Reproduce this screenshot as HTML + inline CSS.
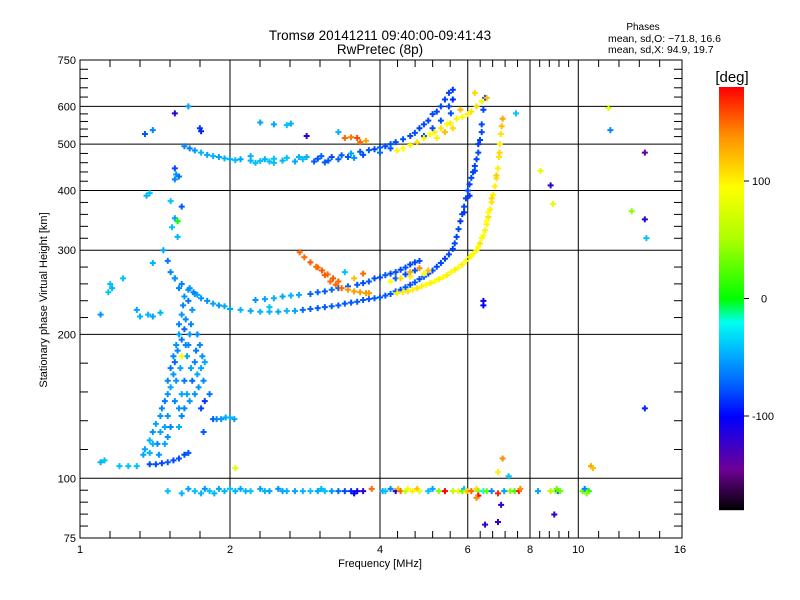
<!DOCTYPE html>
<html><head><meta charset="utf-8"><style>
body{margin:0;background:#fff;width:800px;height:600px;overflow:hidden}
svg{display:block;font-family:"Liberation Sans",sans-serif}
</style></head><body>
<svg id="chart" width="800" height="600" viewBox="0 0 800 600">
<rect width="800" height="600" fill="#fff"/>
<g id="grid"></g><g id="pts"></g><g id="axes"></g>
<text x="380" y="40" font-size="13.5" text-anchor="middle">Tromsø 20141211 09:40:00-09:41:43</text>
<text x="380" y="54" font-size="13.5" text-anchor="middle">RwPretec (8p)</text>
<text x="643" y="30" font-size="10" text-anchor="middle">Phases</text>
<text x="608" y="42" font-size="10.5">mean, sd,O: −71.8, 16.6</text>
<text x="608" y="53" font-size="10.5">mean, sd,X:  94.9, 19.7</text>
<text x="380" y="567" font-size="11" text-anchor="middle">Frequency [MHz]</text>
<text transform="translate(47,300) rotate(-90)" font-size="11" text-anchor="middle">Stationary phase Virtual Height [km]</text>
<text x="732" y="82" font-size="15" text-anchor="middle">[deg]</text>
<g id="cbar"></g>
</svg>
<script>
const xTicks=[1,2,4,6,8,10,16];
const yTicks=[75,100,200,300,400,500,600,750];
const xGrid=[2,4,6,8,10];
const yGrid=[100,200,300,400,500,600];
const cbTicks=[100,0,-100];
// traces: [freq MHz, height km, phase deg]
const oLowTrace=[[1.55,262,-60],[1.6,255,-62],[1.65,248,-58],[1.7,243,-60],[1.75,238,-55],[1.8,235,-58],[1.85,232,-50],[1.9,230,-55],[1.95,229,-48],[2.0,226,-50],[2.1,225,-45],[2.2,224,-48],[2.3,223,-45],[2.4,223,-45],[2.5,223,-48],[2.6,224,-45],[2.7,224,-50],[2.8,225,-70],[2.9,226,-72],[3.0,227,-75],[3.1,228,-75],[3.2,229,-75],[3.3,230,-75],[3.4,232,-75],[3.5,233,-75],[3.6,234,-75],[3.7,236,-75],[3.8,237,-75],[3.9,238,-75],[4.0,239,-75],[4.1,241,-75],[4.2,243,-75],[4.3,246,-75],[4.4,248,-78],[4.5,251,-75],[4.6,254,-78],[4.7,257,-75],[4.8,261,-78],[4.9,264,-75],[5.0,268,-80],[5.1,272,-78],[5.2,277,-80],[5.3,282,-80],[5.4,288,-82],[5.5,294,-80],[5.6,302,-82],[5.65,310,-80],[5.7,320,-82],[5.75,332,-80],[5.8,345,-85],[5.85,357,-82],[5.9,370,-80],[5.95,385,-82],[6.0,400,-80],[6.05,412,-82],[6.1,425,-80],[6.15,437,-82],[6.2,450,-80],[6.25,465,-82],[6.3,480,-80],[6.35,510,-82],[6.4,550,-80],[6.45,590,-82],[6.5,625,-85],[6.05,390,-85],[5.9,360,-85],[6.2,440,-80],[6.3,500,-85],[6.4,530,-80]];
const oMidTrace=[[2.25,236,-55],[2.35,237,-50],[2.45,238,-45],[2.55,240,-50],[2.65,241,-45],[2.75,242,-48],[2.9,243,-70],[3.0,245,-72],[3.1,246,-75],[3.2,248,-70],[3.3,250,-72],[3.45,252,-75],[3.6,254,-75],[3.7,256,-78],[3.8,258,-75],[3.9,262,-78],[4.0,263,-80],[4.1,266,-75],[4.2,268,-80],[4.3,270,-78],[4.4,273,-80],[4.5,276,-78],[4.6,280,-82],[4.7,283,-80],[4.8,285,-78],[4.3,262,-75],[4.5,267,-80],[4.7,272,-78],[4.2,258,90],[4.4,262,110],[4.6,264,100],[4.9,268,95],[5.0,272,120],[4.8,275,140],[4.6,270,130],[3.55,262,120],[3.7,268,150]];
const orangeTrace=[[2.76,297,150],[2.82,290,150],[2.9,283,155],[2.98,277,150],[3.06,272,155],[3.14,267,150],[3.22,262,155],[3.3,258,150],[3.0,276,150],[3.1,266,155],[3.18,258,150],[3.26,254,150],[3.35,250,150],[3.45,248,135],[3.55,246,135],[3.65,245,135],[3.75,244,135],[3.8,244,135]];
const xLowTrace=[[4.33,244,100],[4.45,245,100],[4.55,246,105],[4.65,248,100],[4.75,250,105],[4.85,252,100],[4.95,254,95],[5.05,256,100],[5.15,258,95],[5.25,261,100],[5.35,263,95],[5.45,266,100],[5.55,270,95],[5.65,273,100],[5.75,276,95],[5.85,280,100],[5.95,285,95],[6.05,290,100],[6.15,295,95],[6.25,300,100],[6.35,310,105],[6.45,322,95],[6.5,330,100],[6.55,340,100],[6.6,352,105],[6.65,365,100],[6.7,378,105],[6.75,392,100],[6.8,408,100],[6.85,424,105],[6.9,445,100],[6.93,470,105],[6.96,500,100],[6.99,525,105],[7.02,545,120],[7.05,565,130],[6.4,318,90],[6.55,345,95],[6.7,385,110],[6.85,430,115],[6.95,480,110],[6.6,360,95],[6.3,305,95],[6.1,292,90]];
const oUpperTrace=[[1.62,495,-60],[1.66,490,-62],[1.7,485,-55],[1.75,480,-45],[1.8,475,-50],[1.85,472,-45],[1.9,470,-50],[1.95,467,-45],[2.0,465,-48],[2.05,463,-42],[2.1,465,-50],[2.2,462,-45],[2.3,461,-40],[2.35,465,-45],[2.4,460,-42],[2.45,466,-40],[2.55,462,-45],[2.6,468,-40],[2.7,460,-50],[2.8,465,-40],[2.85,470,-45],[2.95,460,-75],[3.0,466,-78],[3.05,472,-72],[3.15,462,-75],[3.2,470,-78],[3.3,465,-72],[3.35,474,-75],[3.45,470,-75],[3.5,478,-50],[3.55,468,-55],[3.65,482,-75],[3.7,475,-78],[3.8,486,-75],[3.9,488,-80],[4.0,492,-75],[4.1,495,-80],[4.2,500,-78],[4.3,505,-80],[4.45,512,-78],[4.6,520,-80],[4.7,528,-78],[4.8,540,-82],[4.9,550,-80],[5.0,560,-82],[5.1,578,-80],[5.2,585,-82],[5.3,600,-80],[5.4,620,-82],[5.5,640,-80],[5.6,650,-85],[5.3,560,-78],[5.1,540,-80],[4.9,520,-78],[5.5,600,-80],[5.55,580,-78],[5.6,620,-90],[4.0,480,-70],[4.2,490,-75],[2.2,472,-45],[2.25,457,-42],[2.45,457,-40],[2.75,470,-45],[3.1,458,-75]];
const xUpperTrace=[[4.33,485,100],[4.45,490,95],[4.6,498,100],[4.75,505,105],[4.9,515,100],[5.04,524,95],[5.15,530,100],[5.3,540,105],[5.45,550,95],[5.54,553,100],[5.7,565,100],[5.85,570,95],[6.0,578,100],[6.1,585,105],[6.25,600,110],[6.4,615,100],[6.55,625,120],[5.2,515,100],[5.4,530,120],[5.6,540,110],[3.4,515,150],[3.5,517,145],[3.6,515,160],[3.65,505,150],[3.75,508,130],[5.8,590,120],[6.2,640,110]];
const spreadPts=[[1.35,115,-50],[1.38,120,-45],[1.40,125,-55],[1.42,130,-50],[1.43,118,-60],[1.45,135,-55],[1.46,140,-60],[1.48,128,-50],[1.48,145,-65],[1.50,150,-55],[1.50,160,-60],[1.52,155,-50],[1.52,170,-65],[1.54,165,-55],[1.54,180,-60],[1.55,175,-70],[1.56,190,-55],[1.57,185,-60],[1.58,200,-50],[1.58,210,-60],[1.60,195,-65],[1.60,220,-55],[1.61,230,-60],[1.62,205,-70],[1.62,240,-55],[1.63,215,-60],[1.64,180,-50],[1.65,190,-60],[1.65,235,-65],[1.66,200,-55],[1.67,170,-50],[1.67,210,-60],[1.68,160,-70],[1.68,225,-55],[1.70,175,-60],[1.70,150,-55],[1.71,185,-65],[1.72,165,-50],[1.72,200,-60],[1.73,155,-55],[1.74,190,-60],[1.75,170,-50],[1.76,180,-55],[1.77,160,-60],[1.78,175,-50],[1.55,145,-60],[1.58,140,-55],[1.60,150,-50],[1.62,160,-65],[1.50,135,-55],[1.45,125,-50],[1.40,118,-45],[1.44,112,-55],[1.52,128,-60],[1.56,160,-55],[1.59,170,-50],[1.63,190,-60],[1.66,250,-55],[1.69,245,-60],[1.72,242,-50],[1.58,250,-60],[1.55,262,-55],[1.52,270,-60],[1.5,285,-65],[1.47,300,-50],[1.45,222,-45],[1.40,218,-50],[1.37,220,-45],[1.32,218,-45],[1.30,225,-50],[1.10,220,-55],[1.22,262,-40],[1.16,250,-45],[1.14,245,-40],[1.4,282,-45],[1.53,335,-40],[1.55,350,-50],[1.57,320,-45],[1.52,380,-40],[1.36,390,-45],[1.38,395,-40],[1.6,370,-75],[1.56,432,-55],[1.55,445,-80],[1.58,428,-65],[1.55,422,-60],[1.65,600,-50],[1.4,535,-60],[1.74,540,-85],[1.57,345,0],[1.6,180,90],[1.62,140,-60],[1.64,150,-50],[1.66,145,-55],[1.6,135,-60],[1.58,128,-45],[1.48,118,-50],[1.5,122,-55],[1.38,113,-45],[1.34,112,-50],[1.2,106,-40],[1.25,106,-40],[1.1,108,-45],[1.12,109,-40],[1.3,106,-40],[1.75,140,-80],[1.78,145,-85],[1.82,150,-65],[1.77,125,-75],[2.05,105,80]];
const lowCurve=[[1.38,107,-80],[1.42,107,-78],[1.46,107.5,-80],[1.50,108,-75],[1.54,109,-80],[1.58,110,-78],[1.62,112,-80],[1.65,113,-75],[1.85,133,-75],[1.88,133,-60],[1.92,133,-55],[1.96,134,-50],[2.0,134,-45],[2.04,133,-50]];
const eLayer=[[1.5,94,-40],[1.6,93,-45],[1.65,95,-50],[1.7,94,-40],[1.75,93,-45],[1.78,95,-55],[1.82,94,-40],[1.86,93,-45],[1.9,95,-50],[1.95,94,-45],[2.0,95,-40],[2.05,94,-45],[2.1,95,-50],[2.15,94,-45],[2.2,94,-40],[2.3,95,-50],[2.35,94,-45],[2.4,94,-50],[2.5,95,-55],[2.55,94,-50],[2.6,94,-45],[2.7,94,-50],[2.8,94,-45],[2.9,94,-40],[3.0,94,-50],[3.05,95,-45],[3.1,94,-40],[3.2,94,-55],[3.3,94,-70],[3.4,94,-80],[3.5,94,-90],[3.6,94,-110],[3.7,94,-120],[3.55,93,-100],[3.85,95,150],[4.05,94,-50],[4.1,94,-40],[4.2,95,-60],[4.3,94,-120],[4.35,95,120],[4.4,94,150],[4.5,94,60],[4.55,95,90],[4.65,94,100],[4.75,95,120],[4.8,94,80],[5.0,94,-40],[5.1,95,-50],[5.25,94,40],[5.4,94,180],[5.6,94,60],[5.75,94,100],[5.85,94,30],[5.9,95,-40],[5.95,94,100],[6.0,94,120],[6.1,94,150],[6.25,95,110],[6.3,94,40],[6.45,94,-20],[6.55,94,30],[6.7,94,-60],[7.1,94,-50],[7.3,94,40],[7.45,94,20],[7.6,94,170],[7.65,95,140],[8.3,94,-50],[8.8,94,50],[9.0,94,60],[9.1,94,-70],[9.2,94,30],[9.05,95,30],[6.9,93,170],[6.3,92,180],[10.2,94,30],[10.3,95,-60],[10.5,94,10],[10.4,93,40]];
const outliers=[[1.35,525,-75],[1.55,580,-120],[1.75,532,-90],[2.3,555,-50],[2.45,550,-50],[2.6,548,-40],[2.65,552,-45],[2.85,520,-120],[3.3,530,-45],[3.4,270,-40],[2.4,228,-40],[1.15,255,-40],[6.45,235,-110],[6.45,230,-100],[6.9,103,100],[7.05,110,140],[7.5,580,-40],[8.4,440,80],[8.8,410,-120],[8.9,375,80],[10.6,106,130],[10.7,105,120],[11.5,595,80],[11.6,535,-60],[12.8,362,40],[13.6,480,-140],[13.6,348,-120],[13.7,318,-40],[13.6,140,-90],[7.0,88,-120],[6.5,80,-120],[6.9,81,-120],[8.95,84,-120],[7.25,101,-40],[6.25,91,140]];

const X0=80,X1=682,Y0=60,Y1=538;
const xs=f=>X0+150*Math.log2(f);
const ys=h=>Y1-478*Math.log10(h/75);
const NS="http://www.w3.org/2000/svg";
function mk(tag,attrs,parent){const e=document.createElementNS(NS,tag);for(const k in attrs)e.setAttribute(k,attrs[k]);parent.appendChild(e);return e;}
const stops=[[-180,0,0,0],[-145,110,0,150],[-100,0,0,255],[-75,0,90,255],[-45,0,180,255],[-20,0,255,240],[0,0,255,0],[50,170,255,0],[95,255,255,0],[140,255,140,0],[180,255,0,0]];
function col(p){p=Math.max(-180,Math.min(180,p));for(let i=1;i<stops.length;i++){if(p<=stops[i][0]){const a=stops[i-1],b=stops[i],t=(p-a[0])/(b[0]-a[0]);return `rgb(${Math.round(a[1]+t*(b[1]-a[1]))},${Math.round(a[2]+t*(b[2]-a[2]))},${Math.round(a[3]+t*(b[3]-a[3]))})`;}}return "red";}
const grid=document.getElementById('grid'),axes=document.getElementById('axes'),pts=document.getElementById('pts');
xGrid.forEach(v=>{const l=mk('line',{x1:xs(v),x2:xs(v),y1:Y0,y2:Y1,stroke:'#000','stroke-width':1},grid);

});
yGrid.forEach(v=>{const l=mk('line',{x1:X0,x2:X1,y1:ys(v),y2:ys(v),stroke:'#000','stroke-width':1},grid);

});
const all=[oLowTrace,oMidTrace,orangeTrace,xLowTrace,oUpperTrace,xUpperTrace,spreadPts,lowCurve,eLayer,outliers];
all.forEach(arr=>arr.forEach(d=>{const x=xs(d[0]),y=ys(d[1]),c=col(d[2]);
const g=mk('path',{d:`M${x-3},${y}h6M${x},${y-3}v6`,stroke:c,'stroke-width':2,fill:'none'},pts);

}));
const fr=mk('rect',{x:X0,y:Y0,width:X1-X0,height:Y1-Y0,fill:'none',stroke:'#000','stroke-width':1},axes);


for(let i=0;i<xTicks.length-1;i++){const a=xs(xTicks[i]),b=xs(xTicks[i+1]);for(let k=1;k<5;k++){const x=a+(b-a)*k/5;
mk('line',{x1:x,x2:x,y1:Y1,y2:Y1-7,stroke:'#000'},axes);mk('line',{x1:x,x2:x,y1:Y0,y2:Y0+7,stroke:'#000'},axes);}}
for(let i=0;i<yTicks.length-1;i++){const a=ys(yTicks[i]),b=ys(yTicks[i+1]);for(let k=1;k<5;k++){const y=a+(b-a)*k/5;
mk('line',{x1:X0,x2:X0+8,y1:y,y2:y,stroke:'#000'},axes);mk('line',{x1:X1,x2:X1-8,y1:y,y2:y,stroke:'#000'},axes);}}
xTicks.forEach(v=>{const t=mk('text',{x:xs(v),y:553,'font-size':11,'text-anchor':'middle'},axes);t.textContent=v;

});
yTicks.forEach(v=>{const t=mk('text',{x:76,y:ys(v)+4,'font-size':11,'text-anchor':'end'},axes);t.textContent=v;

});
const cb=document.getElementById('cbar');const CT=87,CB=510;
for(let y=CT;y<CB;y++){const p=180-360*(y-CT)/(CB-CT);mk('rect',{x:719,y:y,width:25,height:1.2,fill:col(p)},cb);}
const cy=p=>CT+(180-p)/360*(CB-CT);
cbTicks.forEach(v=>{mk('line',{x1:744,x2:749,y1:cy(v),y2:cy(v),stroke:'#000'},cb);const t=mk('text',{x:v==0?761:752,y:cy(v)+4,'font-size':11},cb);t.textContent=v<0?'-100':String(v);

});
</script>
</body></html>
